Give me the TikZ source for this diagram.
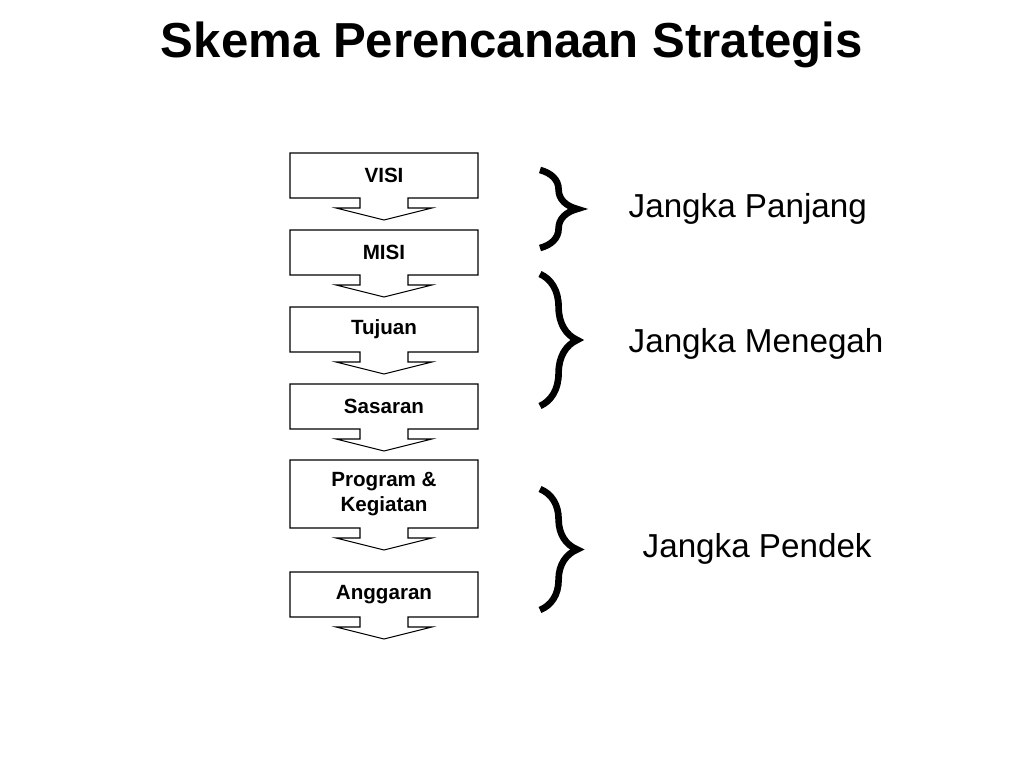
\documentclass[tikz,border=0pt]{standalone}
\usepackage{fontspec}
\setmainfont{Liberation Sans}
\usetikzlibrary{decorations.pathreplacing}
\tikzset{
  boxtext/.style={font=\fontsize{15.5}{19}\selectfont\bfseries,align=center},
  term/.style={font=\fontsize{25}{30}\selectfont,anchor=west},
  bracket/.style={line width=5pt,decorate,decoration={brace,amplitude=28pt}}
}
% box with arrow below: top, bottom, name, text
\newcommand{\stepbox}[4]{
  \draw[thick] (290,#1) -- (478,#1) -- (478,#2) -- (408,#2) -- (408,#2+10) -- (432,#2+10)
    -- (384,#2+22) -- (336,#2+10) -- (360,#2+10) -- (360,#2) -- (290,#2) -- cycle;
  \node[boxtext] (#3) at (384,{(#1+#2)/2}) {#4};
}
\begin{document}
\begin{tikzpicture}[x=0.0264583cm,y=-0.0264583cm]
    \useasboundingbox (0,0) rectangle (1024,768);
    % Title
    \node[font=\fontsize{37}{44}\selectfont\bfseries] (title) at (512,45) {Skema Perencanaan Strategis};

    % Steps
    \stepbox{153}{198}{visi}{VISI}
    \stepbox{230}{275}{misi}{MISI}
    \stepbox{307}{352}{tujuan}{Tujuan}
    \stepbox{384}{429}{sasaran}{Sasaran}
    \stepbox{460}{528}{program}{Program \&\\Kegiatan}
    \stepbox{572}{617}{anggaran}{Anggaran}

    % Braces
    \draw[bracket] (540,170) -- (540,248);
    \draw[bracket] (540,274) -- (540,406);
    \draw[bracket] (540,489) -- (540,610);

    % Terms
    \node[term] (panjang) at (624,209) {Jangka Panjang};
    \node[term] (menegah) at (624,344) {Jangka Menegah};
    \node[term] (pendek) at (638,549) {Jangka Pendek};
\end{tikzpicture}
\end{document}
